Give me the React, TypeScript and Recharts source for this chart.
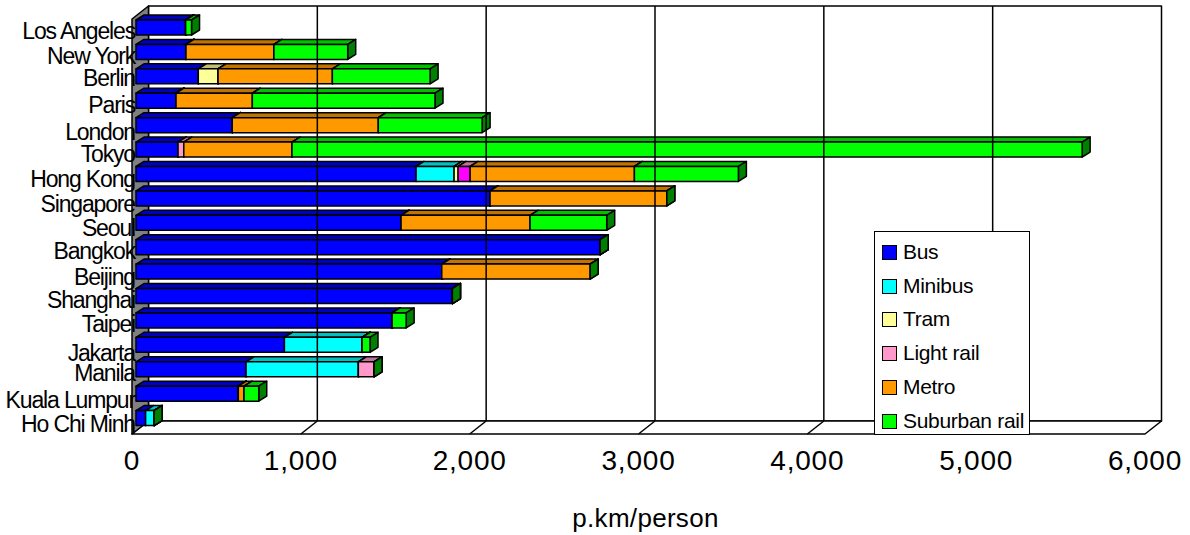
import { Bar, BarChart, Cell, Legend, ReferenceArea, ReferenceLine, XAxis, YAxis } from "recharts";

const cities = ["Los Angeles", "New York", "Berlin", "Paris", "London", "Tokyo", "Hong Kong", "Singapore", "Seoul", "Bangkok", "Beijing", "Shanghai", "Taipei", "Jakarta", "Manila", "Kuala Lumpur", "Ho Chi Minh"];
const bus = [294, 296, 369, 237, 570, 249, 1659, 2097, 1570, 2749, 1811, 1874, 1517, 879, 652, 606, 57];
const minibus = [0, 0, 0, 0, 0, 0, 225, 0, 0, 0, 0, 0, 0, 460, 665, 0, 50];
const tram = [0, 0, 117, 0, 0, 0, 24, 0, 0, 0, 0, 0, 0, 0, 0, 0, 0];
const lightRail = [0, 0, 0, 0, 0, 34, 71, 0, 0, 0, 0, 0, 0, 0, 93, 0, 0];
const metro = [0, 521, 677, 452, 865, 641, 973, 1047, 764, 0, 879, 0, 0, 0, 0, 34, 0];
const suburban = [35, 437, 579, 1082, 615, 4680, 616, 0, 454, 0, 0, 0, 83, 47, 0, 87, 0];
const xTicks = [0, 1000, 2000, 3000, 4000, 5000, 6000];

// label jitter from the original export, px below the band centre
const labelShift = [4, 4, 2, 5, 7, 5, 5, 6, 5, 4, 6, 4, 4, 8, 4, 7, 6];

const table = cities.map((city, i) => ({
  city,
  bus: bus[i],
  minibus: minibus[i],
  tram: tram[i],
  lightRail: lightRail[i],
  metro: metro[i],
  suburban: suburban[i],
}));

const FONT = "'Liberation Sans', Arial, sans-serif";
// box depth of the bars, and of the whole plot
const BAR_DX = 8;
const BAR_DY = 5;
const WALL_DX = 12.5;
const WALL_DY = 9;
const FRONT_DX = 4;
const FRONT_DY = 4;
const LINE = 1.5;

function Box3D(props: any) {
  const { x, y, width, height, fill, top, side } = props;
  const r = x + width;
  const b = y + height;
  return (
    <g stroke="#000" strokeWidth={LINE} strokeLinejoin="round">
      <polygon points={`${x},${y} ${x + BAR_DX},${y - BAR_DY} ${r + BAR_DX},${y - BAR_DY} ${r},${y}`} fill={top} />
      <polygon points={`${r},${y} ${r + BAR_DX},${y - BAR_DY} ${r + BAR_DX},${b - BAR_DY} ${r},${b}`} fill={side} />
      <rect x={x} y={y} width={width} height={height} fill={fill} />
    </g>
  );
}

function Walls(props: any) {
  const { x, y, width, height } = props;
  const fl = x - FRONT_DX;
  const fb = y + height + FRONT_DY;
  const ft = y + FRONT_DY;
  const dx = FRONT_DX + WALL_DX;
  const dy = FRONT_DY + WALL_DY;
  const backL = fl + dx;
  const backT = ft - dy;
  const backB = fb - dy;
  return (
    <g stroke="#000" strokeWidth={LINE} strokeLinejoin="round">
      <rect x={backL} y={backT} width={width} height={backB - backT} fill="#fff" />
      <polygon points={`${fl},${fb} ${backL},${backB} ${backL + width},${backB} ${fl + width},${fb}`} fill="#fff" />
      <polygon points={`${fl},${ft} ${backL},${backT} ${backL},${backB} ${fl},${fb}`} fill="#808080" />
    </g>
  );
}

function GridLine(props: any) {
  const { x1, y1, y2 } = props;
  const top = Math.min(y1, y2);
  const bottom = Math.max(y1, y2);
  return (
    <g stroke="#000" strokeWidth={LINE} fill="none">
      <line x1={x1 + WALL_DX} y1={top - WALL_DY} x2={x1 + WALL_DX} y2={bottom - WALL_DY} />
      <line x1={x1 + WALL_DX} y1={bottom - WALL_DY} x2={x1 - FRONT_DX} y2={bottom + FRONT_DY} />
    </g>
  );
}

function CityTick(props: any) {
  const { y, payload, index } = props;
  return (
    <text x={135} y={y + labelShift[index] + 8} textAnchor="end" fontFamily={FONT} fontSize={23} letterSpacing={-1.15} fill="#000">
      {payload.value}
    </text>
  );
}

function ValueTick(props: any) {
  const { x, payload } = props;
  return (
    <text x={x - FRONT_DX} y={470} textAnchor="middle" fontFamily={FONT} fontSize={28} letterSpacing={0.8} fill="#000">
      {payload.value.toLocaleString("en-US")}
    </text>
  );
}

function LegendBox(props: any) {
  return (
    <div style={{ width: 156, height: 204, boxSizing: "border-box", border: "1.5px solid #000", background: "#fff", position: "relative", fontFamily: FONT, fontSize: 21, letterSpacing: -0.3, color: "#000" }}>
      {props.payload.map((item: any, i: number) => (
        <div key={item.value} style={{ position: "absolute", left: 7, top: 8 + i * 33.7, height: 24, lineHeight: "24px", whiteSpace: "nowrap" }}>
          <span style={{ display: "inline-block", width: 15, height: 15, boxSizing: "border-box", border: "1.5px solid #000", background: item.color, marginRight: 6, verticalAlign: -1 }} />
          {item.value}
        </div>
      ))}
    </div>
  );
}

const series = [
  { key: "bus", name: "Bus", fill: "#0000ff", top: "#0000c0", side: "#000080" },
  { key: "minibus", name: "Minibus", fill: "#00ffff", top: "#00c0c0", side: "#008080" },
  { key: "tram", name: "Tram", fill: "#ffff99", top: "#c0c074", side: "#80804d" },
  { key: "lightRail", name: "Light rail", fill: "#ff99cc", top: "#c07399", side: "#804d66" },
  { key: "metro", name: "Metro", fill: "#ff9900", top: "#c07300", side: "#804d00" },
  { key: "suburban", name: "Suburban rail", fill: "#00ff00", top: "#00c000", side: "#008000" },
];

export default function App() {
  return (
    <div style={{ position: "absolute", left: 0, top: 0, width: 1190, height: 535 }}>
      <BarChart
        width={1190}
        height={535}
        data={table}
        layout="vertical"
        margin={{ top: 15, right: 41, bottom: 45, left: 0 }}
      >
        <ReferenceArea x1={0} x2={6000} shape={<Walls />} ifOverflow="visible" />
        {xTicks.slice(1, -1).map((t) => (
          <ReferenceLine key={t} x={t} shape={<GridLine />} ifOverflow="visible" />
        ))}
        <XAxis
          type="number"
          domain={[0, 6000]}
          ticks={xTicks}
          axisLine={false}
          tickLine={false}
          height={60}
          tick={<ValueTick />}
          interval={0}
          label={{ value: "p.km/person", position: "insideBottom", offset: -37, dx: 3, fontFamily: FONT, fontSize: 26, letterSpacing: 0.3, fill: "#000" }}
        />
        <YAxis type="category" dataKey="city" width={136} axisLine={false} tickLine={false} interval={0} tick={<CityTick />} />
        <Legend
          layout="vertical"
          align="center"
          verticalAlign="middle"
          itemSorter={null}
          content={<LegendBox />}
          wrapperStyle={{ left: 874, top: 231, width: 156, height: 204, bottom: "auto", right: "auto" }}
        />
        {series.map((s) => (
          <Bar
            key={s.key}
            dataKey={s.key}
            name={s.name}
            stackId="modes"
            barSize={15}
            fill={s.fill}
            isAnimationActive={false}
            shape={(p: any) => <Box3D {...p} top={s.top} side={s.side} />}
          >
            {s.key === "lightRail" ? cities.map((c) => <Cell key={c} fill={c === "Hong Kong" ? "#ff00ff" : s.fill} />) : null}
          </Bar>
        ))}
      </BarChart>
    </div>
  );
}
